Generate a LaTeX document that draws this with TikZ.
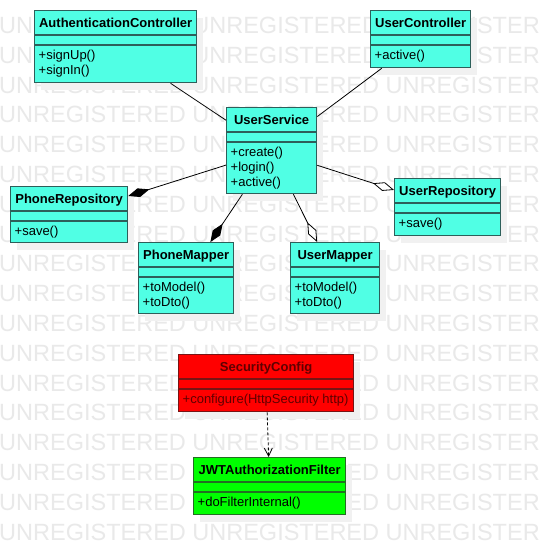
\documentclass[tikz,border=0pt]{standalone}
\usepackage{fontspec}
\setmainfont{Liberation Sans}
\usetikzlibrary{arrows.meta,shadows}

\definecolor{clscyan}{RGB}{80,255,228}
\definecolor{clscyanline}{RGB}{45,95,90}
\definecolor{clsred}{RGB}{255,0,0}
\definecolor{clsredline}{RGB}{120,20,20}
\definecolor{clsredtext}{RGB}{95,0,0}
\definecolor{clsgreen}{RGB}{0,255,0}
\definecolor{clsgreenline}{RGB}{35,110,35}
\definecolor{wmgray}{RGB}{233,233,233}
\definecolor{shadowgray}{RGB}{241,241,241}

\tikzset{
  umlbox/.style={rectangle,inner sep=0pt,line width=1.3pt,
    drop shadow={shadow xshift=6pt,shadow yshift=-7pt,fill=shadowgray,opacity=1}},
  umltitle/.style={anchor=base,inner sep=0pt,font=\fontsize{13}{15}\selectfont\bfseries},
  umlops/.style={anchor=north west,inner sep=0pt,align=left,font=\fontsize{13}{15}\selectfont},
  cyanclass/.style={fill=clscyan,draw=clscyanline,text=black},
  redclass/.style={fill=clsred,draw=clsredline,text=clsredtext},
  greenclass/.style={fill=clsgreen,draw=clsgreenline,text=black},
  wmark/.style={anchor=base west,inner sep=0pt,text=wmgray,font=\fontsize{23.5}{28}\selectfont},
  assoc/.style={line width=0.8pt,black},
  comp/.style={assoc,-{Diamond[length=22pt,width=9pt]}},
  aggr/.style={assoc,-{Diamond[fill=white,length=22pt,width=9pt]}},
  depend/.style={assoc,dash pattern=on 3pt off 2pt,-{Straight Barb[length=8pt,width=8pt]}}
}

% name, x, y, width, height, title, operations, colour style
\newcommand{\umlclass}[8]{%
  \node[umlbox,#8,anchor=north west,minimum width=#4pt,minimum height=#5pt] (#1) at (#2,#3) {};
  \draw[#8,fill=none,line width=1.3pt] ([yshift=-25pt]#1.north west) -- ([yshift=-25pt]#1.north east);
  \draw[#8,fill=none,line width=1.3pt] ([yshift=-35pt]#1.north west) -- ([yshift=-35pt]#1.north east);
  \node[#8,fill=none,draw=none,umltitle] (#1-t) at ([yshift=-17pt]#1.north) {#6};
  \node[#8,fill=none,draw=none,umlops] (#1-m) at ([xshift=4.5pt,yshift=-39.5pt]#1.north west) {#7};
}

\begin{document}
\begin{tikzpicture}[x=1pt,y=-1pt]
  \useasboundingbox (0,0) rectangle (539,555);
  \fill[white] (0,0) rectangle (539,555);
  \foreach \r in {0,...,17}
    \node[wmark] (wm\r) at (-1,33.4+29.8*\r) {UNREGISTERED UNREGISTERED UNREGISTERED};

  \umlclass{authc}{34}{10}{162}{72}{AuthenticationController}{+signUp()\\+signIn()}{cyanclass}
  \umlclass{userc}{370}{10}{100}{57}{UserController}{+active()}{cyanclass}
  \umlclass{usvc}{226}{107}{90}{86}{UserService}{+create()\\+login()\\+active()}{cyanclass}
  \umlclass{phrepo}{10}{186}{117}{56}{PhoneRepository}{+save()}{cyanclass}
  \umlclass{urepo}{394}{178}{106}{57}{UserRepository}{+save()}{cyanclass}
  \umlclass{phmap}{138}{242}{95}{71}{PhoneMapper}{+toModel()\\+toDto()}{cyanclass}
  \umlclass{umap}{290}{242}{89}{71}{UserMapper}{+toModel()\\+toDto()}{cyanclass}
  \umlclass{seccfg}{178}{354}{175}{57}{SecurityConfig}{+configure(HttpSecurity http)}{redclass}
  \umlclass{jwtf}{193}{457}{152}{57}{JWTAuthorizationFilter}{+doFilterInternal()}{greenclass}

  \draw[assoc] (authc) -- (usvc);
  \draw[assoc] (userc) -- (usvc);
  \draw[comp] (usvc) -- (phrepo);
  \draw[comp] (usvc) -- (phmap);
  \draw[aggr] (usvc) -- (urepo);
  \draw[aggr] (usvc) -- (umap);
  \draw[depend] (seccfg) -- (jwtf);
\end{tikzpicture}
\end{document}
